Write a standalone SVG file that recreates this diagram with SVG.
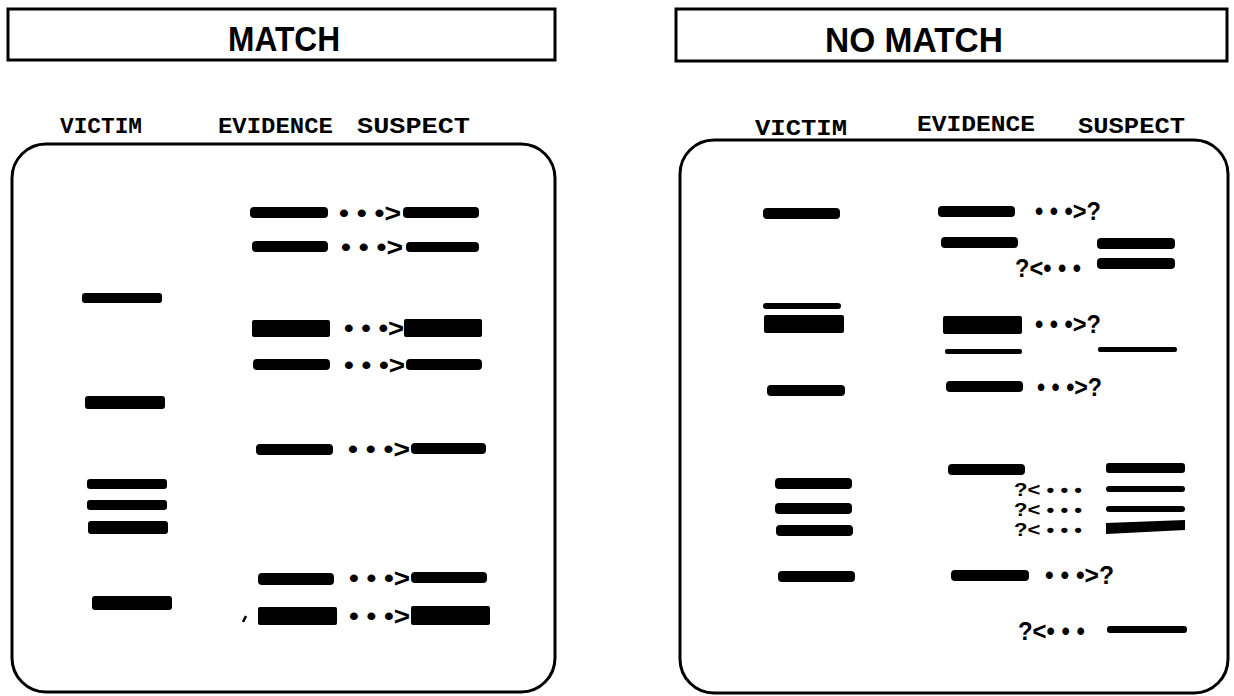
<svg xmlns="http://www.w3.org/2000/svg" width="1234" height="696" viewBox="0 0 1234 696">
<style>
.title{font-family:"Liberation Sans",Arial,sans-serif;font-weight:bold;font-size:35px;fill:#000;text-anchor:middle}
.hdr{font-family:"Liberation Mono","Courier New",monospace;font-weight:bold;font-size:22px;fill:#000}
.box{fill:#fff;stroke:#000;stroke-width:3}
.panel{fill:#fff;stroke:#000;stroke-width:3}
.b{fill:#000}
.arr{font-family:"Liberation Sans",Arial,sans-serif;font-weight:bold;font-size:25px;fill:#000}
.arr2{font-family:"Liberation Sans",Arial,sans-serif;font-weight:bold;font-size:18px;fill:#000}
</style>
<rect width="1234" height="696" fill="#fff"/>
<g id="title-match">
<rect class="box" x="8" y="9" width="547" height="51"/>
<text class="title" x="284" y="51" textLength="112" lengthAdjust="spacingAndGlyphs">MATCH</text>
</g>
<g id="title-nomatch">
<rect class="box" x="676" y="9" width="551" height="52"/>
<text class="title" x="914" y="52" textLength="178" lengthAdjust="spacingAndGlyphs">NO MATCH</text>
</g>
<g id="headers-left">
<text class="hdr" x="60" y="133" textLength="82" lengthAdjust="spacingAndGlyphs">VICTIM</text>
<text class="hdr" x="218" y="133" textLength="115" lengthAdjust="spacingAndGlyphs">EVIDENCE</text>
<text class="hdr" x="357" y="133" textLength="113" lengthAdjust="spacingAndGlyphs">SUSPECT</text>
</g>
<g id="headers-right">
<text class="hdr" x="755" y="135" textLength="92" lengthAdjust="spacingAndGlyphs">VICTIM</text>
<text class="hdr" x="917" y="131" textLength="118" lengthAdjust="spacingAndGlyphs">EVIDENCE</text>
<text class="hdr" x="1078" y="133" textLength="107" lengthAdjust="spacingAndGlyphs">SUSPECT</text>
</g>
<g id="panel-match">
<rect class="panel" x="12" y="144" width="543" height="548" rx="34" ry="34"/>
</g>
<g id="panel-nomatch">
<rect class="panel" x="680" y="140" width="548" height="553" rx="34" ry="34"/>
</g>
<g id="bands-match-victim">
<rect class="b" x="82" y="293" width="80" height="10" rx="3"/>
<rect class="b" x="85" y="396" width="80" height="13" rx="3"/>
<rect class="b" x="87" y="479" width="80" height="10" rx="3"/>
<rect class="b" x="87" y="500" width="80" height="10" rx="3"/>
<rect class="b" x="88" y="521" width="80" height="13" rx="3"/>
<rect class="b" x="92" y="596" width="80" height="14" rx="3"/>
</g>
<g id="bands-match-evidence">
<rect class="b" x="250" y="207" width="78" height="11" rx="4"/>
<rect class="b" x="252" y="241" width="76" height="11" rx="4"/>
<rect class="b" x="252" y="320" width="78" height="17" rx="2"/>
<rect class="b" x="253" y="359" width="77" height="11" rx="4"/>
<rect class="b" x="256" y="444" width="77" height="11" rx="4"/>
<rect class="b" x="258" y="573" width="76" height="12" rx="4"/>
<rect class="b" x="258" y="607" width="79" height="18" rx="2"/>
<path d="M243,622 L246,616" stroke="#000" stroke-width="2.5" fill="none"/>
</g>
<g id="bands-match-suspect">
<rect class="b" x="403" y="207" width="76" height="11" rx="4"/>
<rect class="b" x="406" y="242" width="73" height="10" rx="4"/>
<rect class="b" x="404" y="319" width="78" height="18" rx="2"/>
<rect class="b" x="406" y="359" width="76" height="11" rx="4"/>
<rect class="b" x="411" y="443" width="75" height="11" rx="4"/>
<rect class="b" x="411" y="572" width="76" height="11" rx="4"/>
<rect class="b" x="411" y="606" width="79" height="19" rx="2"/>
</g>
<g id="bands-nomatch-victim">
<rect class="b" x="763" y="208" width="77" height="11" rx="4"/>
<rect class="b" x="763" y="303" width="78" height="6" rx="3"/>
<rect class="b" x="764" y="315" width="80" height="18" rx="2"/>
<rect class="b" x="767" y="385" width="78" height="11" rx="4"/>
<rect class="b" x="775" y="478" width="77" height="11" rx="4"/>
<rect class="b" x="775" y="503" width="77" height="11" rx="4"/>
<rect class="b" x="776" y="525" width="77" height="11" rx="4"/>
<rect class="b" x="778" y="571" width="77" height="11" rx="4"/>
</g>
<g id="bands-nomatch-evidence">
<rect class="b" x="938" y="206" width="77" height="11" rx="4"/>
<rect class="b" x="941" y="237" width="77" height="11" rx="4"/>
<rect class="b" x="943" y="316" width="79" height="18" rx="2"/>
<rect class="b" x="945" y="349" width="77" height="5" rx="2"/>
<rect class="b" x="946" y="381" width="77" height="11" rx="4"/>
<rect class="b" x="948" y="464" width="77" height="11" rx="4"/>
<rect class="b" x="951" y="570" width="78" height="11" rx="4"/>
</g>
<g id="bands-nomatch-suspect">
<rect class="b" x="1097" y="238" width="78" height="11" rx="4"/>
<rect class="b" x="1097" y="258" width="78" height="11" rx="4"/>
<rect class="b" x="1098" y="347" width="79" height="5" rx="2"/>
<rect class="b" x="1106" y="463" width="79" height="10" rx="3"/>
<rect class="b" x="1106" y="486" width="79" height="6" rx="3"/>
<rect class="b" x="1106" y="506" width="79" height="6" rx="3"/>
<path class="b" d="M1106,523 L1185,520 L1185,530 L1106,534 Z"/>
<rect class="b" x="1107" y="626" width="80" height="7" rx="3"/>
</g>
<g id="connectors">
<text class="arr" x="339" y="222" textLength="62" lengthAdjust="spacingAndGlyphs">• • •&gt;</text>
<text class="arr" x="341" y="256" textLength="62" lengthAdjust="spacingAndGlyphs">• • •&gt;</text>
<text class="arr" x="344" y="337" textLength="60" lengthAdjust="spacingAndGlyphs">• • •&gt;</text>
<text class="arr" x="344" y="374" textLength="61" lengthAdjust="spacingAndGlyphs">• • •&gt;</text>
<text class="arr" x="348" y="458" textLength="62" lengthAdjust="spacingAndGlyphs">• • •&gt;</text>
<text class="arr" x="349" y="587" textLength="61" lengthAdjust="spacingAndGlyphs">• • •&gt;</text>
<text class="arr" x="349" y="625" textLength="61" lengthAdjust="spacingAndGlyphs">• • •&gt;</text>
<text class="arr" x="1035" y="220" textLength="66" lengthAdjust="spacingAndGlyphs">• • •&gt;?</text>
<text class="arr" x="1015" y="277" textLength="66" lengthAdjust="spacingAndGlyphs">?&lt;• • •</text>
<text class="arr" x="1035" y="333" textLength="66" lengthAdjust="spacingAndGlyphs">• • •&gt;?</text>
<text class="arr" x="1037" y="396" textLength="65" lengthAdjust="spacingAndGlyphs">• • •&gt;?</text>
<text class="arr2" x="1014" y="496" textLength="68" lengthAdjust="spacingAndGlyphs">?&lt; • • •</text>
<text class="arr2" x="1014" y="516" textLength="68" lengthAdjust="spacingAndGlyphs">?&lt; • • •</text>
<text class="arr2" x="1014" y="536" textLength="68" lengthAdjust="spacingAndGlyphs">?&lt; • • •</text>
<text class="arr" x="1045" y="584" textLength="69" lengthAdjust="spacingAndGlyphs">• • •&gt;?</text>
<text class="arr" x="1018" y="640" textLength="67" lengthAdjust="spacingAndGlyphs">?&lt;• • •</text>
</g>
</svg>
